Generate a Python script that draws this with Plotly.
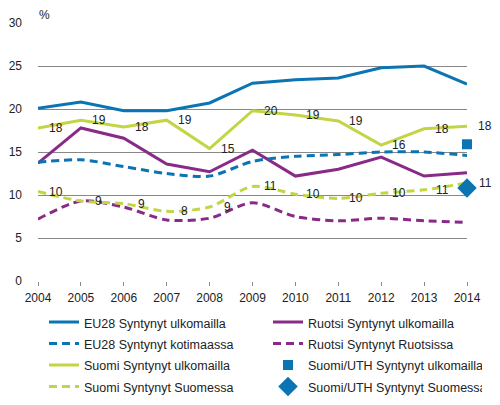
import plotly.graph_objects as go

years = list(range(2004, 2015))

eu28_ulk = [20.1, 20.8, 19.8, 19.8, 20.7, 23.0, 23.4, 23.6, 24.8, 25.0, 22.9]
eu28_koti = [13.8, 14.1, 13.3, 12.5, 12.2, 13.9, 14.5, 14.7, 15.0, 15.0, 14.6]
ruotsi_ulk = [13.7, 17.8, 16.6, 13.6, 12.7, 15.2, 12.2, 13.0, 14.4, 12.2, 12.6]
ruotsi_ruot = [7.2, 9.3, 8.6, 7.1, 7.3, 9.1, 7.5, 7.0, 7.3, 7.0, 6.8]
suomi_ulk = [17.8, 18.7, 17.9, 18.7, 15.4, 19.8, 19.3, 18.6, 15.8, 17.7, 18.0]
suomi_suom = [10.4, 9.3, 9.0, 8.1, 8.6, 11.0, 10.1, 9.6, 10.2, 10.6, 11.4]
suomi_ulk_labels = ['18', '19', '18', '19', '15', '20', '19', '19', '16', '18', '18']
suomi_suom_labels = ['10', '9', '9', '8', '9', '11', '10', '10', '10', '11', '11']
uth_ulk = 15.9
uth_suom = 10.8

blue = '#0a75b2'
purple = '#8a2a88'
lime = '#c3d545'
font = 'Liberation Sans, Arial, sans-serif'

fig = go.Figure()

def legend_name(s):
    # legend font is bigger to get the row spacing, text itself kept small
    return '<span style="font-size:12.5px">' + s + '</span>'

def add_line(name, y, color, dash=None):
    fig.add_trace(go.Scatter(
        x=years, y=y, name=legend_name(name), mode='lines',
        line=dict(color=color, width=3, dash=dash,
                  shape='spline' if dash else 'linear', smoothing=0.8),
    ))

# order so legend wraps two per row like the original
add_line('EU28 Syntynyt ulkomailla', eu28_ulk, blue)
add_line('Ruotsi Syntynyt ulkomailla', ruotsi_ulk, purple)
add_line('EU28 Syntynyt kotimaassa', eu28_koti, blue, '8px,5px')
add_line('Ruotsi Syntynyt Ruotsissa', ruotsi_ruot, purple, '8px,5px')
add_line('Suomi Syntynyt ulkomailla', suomi_ulk, lime)
fig.add_trace(go.Scatter(
    x=[2014], y=[uth_ulk], name=legend_name('Suomi/UTH Syntynyt ulkomailla'),
    mode='markers', marker=dict(symbol='square', size=10, color=blue),
    cliponaxis=False))
add_line('Suomi Syntynyt Suomessa', suomi_suom, lime, '8px,5px')
fig.add_trace(go.Scatter(
    x=[2014], y=[uth_suom], name=legend_name('Suomi/UTH Syntynyt Suomessa'),
    mode='markers', marker=dict(symbol='diamond', size=15, color=blue),
    cliponaxis=False))

for yr, v, t in zip(years, suomi_ulk, suomi_ulk_labels):
    fig.add_annotation(x=yr, y=v, text=t, showarrow=False, xshift=18,
                       font=dict(size=12, color='#222'))
for yr, v, t in zip(years, suomi_suom, suomi_suom_labels):
    fig.add_annotation(x=yr, y=v, text=t, showarrow=False, xshift=18,
                       font=dict(size=12, color='#222'))

fig.add_annotation(x=-0.003, y=1.03, xref='paper', yref='paper', text='%',
                   showarrow=False, xanchor='left', yanchor='middle',
                   font=dict(size=12, color='#222'))

# page has an 8px body margin, so the figure is a bit smaller than the window
fig.update_layout(
    width=492, height=397,
    margin=dict(l=30, r=33, t=15, b=124, autoexpand=False),
    paper_bgcolor='white', plot_bgcolor='white',
    font=dict(family=font, size=12, color='#222'),
    showlegend=True,
    legend=dict(orientation='h', x=-0.0093, y=-0.098, xanchor='left', yanchor='top',
                entrywidth=169, indentation=10, font=dict(size=14.2), itemwidth=30),
    xaxis=dict(range=[2004, 2014], tickvals=years, showgrid=False,
               zeroline=False, showline=False, ticks='outside', ticklen=4,
               tickcolor='#888', tickfont=dict(size=12), automargin=False,
               ticklabelstandoff=2),
    yaxis=dict(range=[0, 30], dtick=5, showgrid=True, gridcolor='#888',
               gridwidth=1, zeroline=False, showline=False, ticks='',
               tickfont=dict(size=12), ticklabelstandoff=15, automargin=False),
)

fig.write_html('out.html')
